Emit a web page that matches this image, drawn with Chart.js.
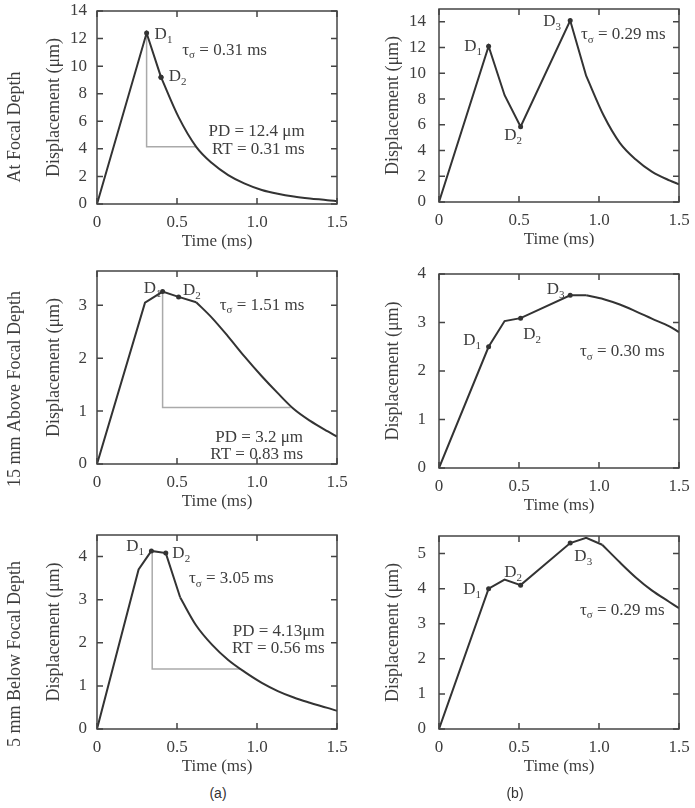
<!DOCTYPE html>
<html>
<head>
<meta charset="utf-8">
<script src="https://cdn.jsdelivr.net/npm/chart.js@4.4.1/dist/chart.umd.min.js"></script>
<style>
  body { margin: 0; background: #fff; width: 695px; height: 808px; position: relative; overflow: hidden; }
  canvas { position: absolute; }
  .cap { position: absolute; font: 14px "Liberation Sans", Arial, sans-serif; color: #333; transform: translate(-50%, -50%); }
</style>
</head>
<body>
<canvas id="a1"></canvas>
<canvas id="a2"></canvas>
<canvas id="a3"></canvas>
<canvas id="b1"></canvas>
<canvas id="b2"></canvas>
<canvas id="b3"></canvas>
<div class="cap" style="left:218px;top:793px">(a)</div>
<div class="cap" style="left:515px;top:793px">(b)</div>
<script>
// shared x axis
const xTicks = [0, 0.5, 1.0, 1.5];
const xTickLabels = ['0', '0.5', '1.0', '1.5'];

// (a) at focal depth
const timeA1 = [0, 0.31, 0.4, 0.51, 0.62, 0.72, 0.82, 0.92, 1.03, 1.13, 1.23, 1.33, 1.44, 1.5];
const dispA1 = [0, 12.4, 9.2, 6.3, 4.15, 2.95, 2.1, 1.5, 1.02, 0.74, 0.54, 0.4, 0.28, 0.2];
const markA1 = [1, 2];
const rtTimeA1 = [0.31, 0.31, 0.62];
const rtDispA1 = [12.4, 4.15, 4.15];
const yTicksA1 = [0, 2, 4, 6, 8, 10, 12, 14];

// (a) 15 mm above focal depth
const timeA2 = [0, 0.3, 0.41, 0.51, 0.62, 0.72, 0.82, 0.92, 1.03, 1.13, 1.23, 1.33, 1.44, 1.5];
const dispA2 = [0, 3.05, 3.26, 3.16, 3.06, 2.76, 2.41, 2.04, 1.66, 1.34, 1.04, 0.82, 0.62, 0.52];
const markA2 = [2, 3];
const rtTimeA2 = [0.41, 0.41, 1.21];
const rtDispA2 = [3.26, 1.07, 1.07];
const yTicksA2 = [0, 1, 2, 3];

// (a) 5 mm below focal depth
const timeA3 = [0, 0.26, 0.34, 0.43, 0.52, 0.62, 0.72, 0.82, 0.92, 1.03, 1.13, 1.23, 1.33, 1.44, 1.5];
const dispA3 = [0, 3.7, 4.13, 4.08, 3.05, 2.4, 1.95, 1.6, 1.33, 1.07, 0.88, 0.73, 0.61, 0.49, 0.42];
const markA3 = [2, 3];
const rtTimeA3 = [0.345, 0.345, 0.9];
const rtDispA3 = [4.13, 1.39, 1.39];
const yTicksA3 = [0, 1, 2, 3, 4];

// (b) at focal depth
const timeB1 = [0, 0.31, 0.41, 0.51, 0.82, 0.92, 1.03, 1.13, 1.23, 1.33, 1.44, 1.5];
const dispB1 = [0, 12.1, 8.3, 5.85, 14.1, 9.8, 6.7, 4.6, 3.3, 2.36, 1.68, 1.38];
const markB1 = [1, 3, 4];
const yTicksB1 = [0, 2, 4, 6, 8, 10, 12, 14];

// (b) 15 mm above focal depth
const timeB2 = [0, 0.31, 0.41, 0.51, 0.82, 0.92, 1.03, 1.13, 1.23, 1.33, 1.44, 1.5];
const dispB2 = [0, 2.5, 3.03, 3.09, 3.56, 3.56, 3.48, 3.37, 3.23, 3.08, 2.92, 2.8];
const markB2 = [1, 3, 4];
const yTicksB2 = [0, 1, 2, 3, 4];

// (b) 5 mm below focal depth
const timeB3 = [0, 0.31, 0.41, 0.51, 0.82, 0.92, 1.02, 1.13, 1.23, 1.33, 1.44, 1.5];
const dispB3 = [0, 4.0, 4.26, 4.1, 5.3, 5.45, 5.25, 4.75, 4.32, 3.95, 3.62, 3.44];
const markB3 = [1, 3, 4];
const yTicksB3 = [0, 1, 2, 3, 4, 5];

const ink = '#333';
const inkSoft = '#3d3d3d';
const serif = '"Liberation Serif", "Times New Roman", serif';

const sub = (d) => [['D'], [d, 1]];
const tau = (v) => [['τ'], ['σ', 1], [' = ' + v + ' ms']];

// smoothFrom: index where the decaying tail (drawn smooth) starts
const panels = [
  { id: 'a1', left: 0, top: 0, width: 360, plot: [97, 11, 337, 204], yTitleX: 53, tickGap: 10,
    yMax: 14, yTicks: yTicksA1, time: timeA1, disp: dispA1, marks: markA1, smoothFrom: 2, rt: [rtTimeA1, rtDispA1],
    rowLabel: 'At Focal Depth', rowLabelY: 127,
    notes: [
      { x: 0.36, y: 11.98, parts: sub('1') },
      { x: 0.448, y: 8.9, parts: sub('2') },
      { x: 0.533, y: 10.84, parts: tau('0.31') },
      { x: 1.298, y: 4.95, align: 'right', parts: [['PD = 12.4 μm']] },
      { x: 1.298, y: 3.64, align: 'right', parts: [['RT = 0.31 ms']] }
    ] },
  { id: 'a2', left: 0, top: 255, width: 360, plot: [97, 271, 337, 464], yTitleX: 53, tickGap: 10,
    yMax: 3.65, yTicks: yTicksA2, time: timeA2, disp: dispA2, marks: markA2, smoothFrom: 4, rt: [rtTimeA2, rtDispA2],
    rowLabel: '15 mm Above Focal Depth', rowLabelY: 389,
    notes: [
      { x: 0.292, y: 3.23, parts: sub('1') },
      { x: 0.5375, y: 3.19, parts: sub('2') },
      { x: 0.767, y: 2.92, parts: tau('1.51') },
      { x: 1.2875, y: 0.416, align: 'right', parts: [['PD = 3.2 μm']] },
      { x: 1.2875, y: 0.10, align: 'right', parts: [['RT = 0.83 ms']] }
    ] },
  { id: 'a3', left: 0, top: 520, width: 360, plot: [97, 535, 337, 729], yTitleX: 53, tickGap: 10,
    yMax: 4.5, yTicks: yTicksA3, time: timeA3, disp: dispA3, marks: markA3, smoothFrom: 4, rt: [rtTimeA3, rtDispA3],
    rowLabel: '5 mm Below Focal Depth', rowLabelY: 654,
    notes: [
      { x: 0.183, y: 4.13, parts: sub('1') },
      { x: 0.471, y: 3.96, parts: sub('2') },
      { x: 0.575, y: 3.38, parts: tau('3.05') },
      { x: 1.423, y: 2.16, align: 'right', parts: [['PD = 4.13μm']] },
      { x: 1.423, y: 1.76, align: 'right', parts: [['RT = 0.56 ms']] }
    ] },
  { id: 'b1', left: 345, top: 0, width: 350, plot: [439, 9, 679, 202], yTitleX: 392, tickGap: 13,
    yMax: 15, yTicks: yTicksB1, time: timeB1, disp: dispB1, marks: markB1, smoothFrom: 5,
    notes: [
      { x: 0.158, y: 11.75, parts: sub('1') },
      { x: 0.408, y: 4.81, parts: sub('2') },
      { x: 0.652, y: 13.68, parts: sub('3') },
      { x: 0.8875, y: 12.65, parts: tau('0.29') }
    ] },
  { id: 'b2', left: 345, top: 255, width: 350, plot: [439, 274, 679, 468], yTitleX: 392, tickGap: 13,
    yMax: 4, yTicks: yTicksB2, time: timeB2, disp: dispB2, marks: markB2, smoothFrom: 5,
    notes: [
      { x: 0.152, y: 2.53, parts: sub('1') },
      { x: 0.527, y: 2.65, parts: sub('2') },
      { x: 0.673, y: 3.59, parts: sub('3') },
      { x: 0.881, y: 2.30, parts: tau('0.30') }
    ] },
  { id: 'b3', left: 345, top: 520, width: 350, plot: [439, 536, 679, 729], yTitleX: 392, tickGap: 13,
    yMax: 5.5, yTicks: yTicksB3, time: timeB3, disp: dispB3, marks: markB3, smoothFrom: 6,
    notes: [
      { x: 0.152, y: 3.85, parts: sub('1') },
      { x: 0.408, y: 4.32, parts: sub('2') },
      { x: 0.846, y: 4.79, parts: sub('3') },
      { x: 0.881, y: 3.26, parts: tau('0.29') }
    ] }
];

// text with subscripts, parts = [[text, isSub], ...]
function drawParts(ctx, parts, x, y, size, align) {
  const big = size + 'px ' + serif;
  const small = Math.round(size * 0.62) + 'px ' + serif;
  let total = 0;
  parts.forEach(([t, s]) => { ctx.font = s ? small : big; total += ctx.measureText(t).width; });
  let cx = align === 'right' ? x - total : x;
  ctx.textBaseline = 'alphabetic';
  ctx.textAlign = 'left';
  parts.forEach(([t, s]) => {
    ctx.font = s ? small : big;
    ctx.fillText(t, cx, s ? y + size * 0.22 : y);
    cx += ctx.measureText(t).width;
  });
}

const framePlugin = {
  id: 'frame',
  afterDatasetsDraw(chart, args, opts) {
    const { ctx, chartArea: a, scales } = chart;
    const p = opts.panel;
    ctx.save();
    ctx.strokeStyle = '#444';
    ctx.lineWidth = 1.5;
    ctx.strokeRect(a.left, a.top, a.right - a.left, a.bottom - a.top);
    ctx.beginPath();
    const len = 6;
    xTicks.forEach(v => {
      const px = scales.x.getPixelForValue(v);
      ctx.moveTo(px, a.bottom); ctx.lineTo(px, a.bottom - len);
      ctx.moveTo(px, a.top); ctx.lineTo(px, a.top + len);
    });
    p.yTicks.forEach(v => {
      const py = scales.y.getPixelForValue(v);
      ctx.moveTo(a.left, py); ctx.lineTo(a.left + len, py);
      ctx.moveTo(a.right, py); ctx.lineTo(a.right - len, py);
    });
    ctx.stroke();

    ctx.fillStyle = inkSoft;
    p.notes.forEach(n => {
      drawParts(ctx, n.parts, scales.x.getPixelForValue(n.x), scales.y.getPixelForValue(n.y), 17, n.align);
    });

    if (p.rowLabel) {
      ctx.translate(15 - p.left, p.rowLabelY - p.top);
      ctx.rotate(-Math.PI / 2);
      ctx.font = '18px ' + serif;
      ctx.textAlign = 'center';
      ctx.textBaseline = 'middle';
      ctx.fillText(p.rowLabel, 0, 0);
    }
    ctx.restore();
  }
};

function buildChart(p) {
  const canvas = document.getElementById(p.id);
  const [L, T, R, B] = p.plot;
  const xAxisH = 46;
  const h = B + xAxisH - p.top;
  canvas.width = p.width;
  canvas.height = h;
  canvas.style.left = p.left + 'px';
  canvas.style.top = p.top + 'px';
  canvas.style.width = p.width + 'px';
  canvas.style.height = h + 'px';
  const padL = Math.round(p.yTitleX - 10 - p.left);

  const pts = p.time.map((t, i) => ({ x: t, y: p.disp[i] }));
  const k = p.smoothFrom;
  const datasets = [{
    // sharp part: rise and peaks, straight segments
    data: pts.slice(0, k + 1),
    borderColor: ink,
    borderWidth: 2,
    tension: 0,
    pointRadius: ctx => p.marks.includes(ctx.dataIndex) ? 2.5 : 0,
    pointBackgroundColor: ink,
    pointBorderWidth: 0
  }, {
    // decaying tail, smooth
    data: pts.slice(k),
    borderColor: ink,
    borderWidth: 2,
    cubicInterpolationMode: 'monotone',
    pointRadius: ctx => p.marks.includes(ctx.dataIndex + k) ? 2.5 : 0,
    pointBackgroundColor: ink,
    pointBorderWidth: 0
  }];
  if (p.rt) {
    datasets.push({
      data: p.rt[0].map((t, i) => ({ x: t, y: p.rt[1][i] })),
      borderColor: '#aaaaaa',
      borderWidth: 1.5,
      tension: 0,
      pointRadius: 0
    });
  }

  new Chart(canvas, {
    type: 'line',
    data: { datasets },
    options: {
      responsive: false,
      animation: false,
      devicePixelRatio: 1,
      layout: { padding: { left: padL, top: T - p.top, right: p.left + p.width - R, bottom: 0 } },
      plugins: { legend: { display: false }, tooltip: { enabled: false }, frame: { panel: p } },
      scales: {
        x: {
          type: 'linear', min: 0, max: 1.5,
          afterBuildTicks: s => { s.ticks = xTicks.map(v => ({ value: v })); },
          ticks: { callback: (v, i) => xTickLabels[i], font: { family: serif, size: 17 }, color: inkSoft, padding: 8, maxRotation: 0, autoSkip: false },
          grid: { display: false, drawTicks: false },
          border: { display: false },
          title: { display: true, text: 'Time (ms)', font: { family: serif, size: 17 }, color: inkSoft, padding: { top: 0, bottom: -2 } },
          afterFit: s => { s.height = xAxisH; s.paddingLeft = 0; s.paddingRight = 0; }
        },
        y: {
          type: 'linear', min: 0, max: p.yMax,
          afterBuildTicks: s => { s.ticks = p.yTicks.map(v => ({ value: v })); },
          ticks: { callback: v => String(v), font: { family: serif, size: 17 }, color: inkSoft, padding: p.tickGap, autoSkip: false },
          grid: { display: false, drawTicks: false },
          border: { display: false },
          title: { display: true, text: 'Displacement (μm)', font: { family: serif, size: 18 }, color: inkSoft, padding: 0 },
          afterFit: s => { s.width = L - p.left - padL; s.paddingTop = 0; s.paddingBottom = 0; }
        }
      }
    },
    plugins: [framePlugin]
  });
}

panels.forEach(buildChart);
</script>
</body>
</html>
